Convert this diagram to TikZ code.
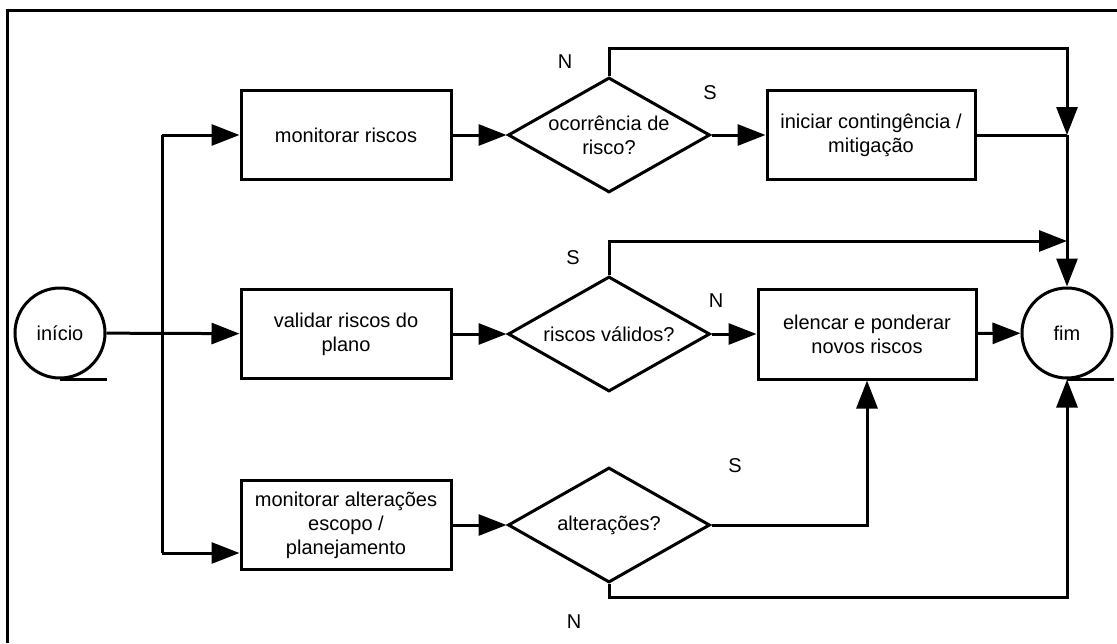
\documentclass[tikz,border=0pt]{standalone}
\usepackage{fontspec}
\setmainfont{Liberation Sans}
\usetikzlibrary{shapes.geometric,arrows.meta}
\begin{document}
\begin{tikzpicture}[x=1pt,y=-1pt,
  line width=3pt,
  arr/.style={-{Triangle[length=28pt,width=21pt]}},
  every node/.style={font=\fontsize{20}{24}\selectfont, align=center},
  procbox/.style={draw, rectangle, inner sep=0pt, minimum width=210pt, minimum height=89pt},
  decision/.style={draw, diamond, aspect=1.757, inner sep=0pt, minimum width=202pt, minimum height=115pt},
  terminal/.style={draw, circle, inner sep=0pt, minimum size=90pt},
  yesno/.style={inner sep=0pt}]
\useasboundingbox (0,0) rectangle (1117,643);

% frame (top and left edges)
\draw (7.5,643) -- (7.5,10.5) -- (1117,10.5);

% terminals
\node[terminal] (ini) at (60,333) {início};
\node[terminal] (fim) at (1067,333) {fim};
\draw (ini.south) -- (ini.south -| ini.east);
\draw (fim.south) -- (fim.south -| fim.east);

% process boxes
\node[procbox] (b1) at (346,135) {monitorar riscos};
\node[procbox] (b2) at (346,334) {validar riscos do\\plano};
\node[procbox] (b3) at (346,525) {monitorar alterações\\escopo /\\planejamento};
\node[procbox, minimum width=208pt] (c1) at (871,135) {iniciar contingência /\\mitigação};
\node[procbox, minimum width=218pt, minimum height=90pt] (el) at (867,334) {elencar e ponderar\\novos riscos};

% decisions
\node[decision] (d1) at (609,135) {ocorrência de\\risco?};
\node[decision] (d2) at (609,334) {riscos válidos?};
\node[decision] (d3) at (609,525) {alterações?};

% fan-out from the start
\coordinate (vt) at (162,135);
\coordinate (vb) at (162,553);
\draw (vt) -- (vb);
\draw[arr] (vt) -- (b1.west);
\draw[arr] (ini) -- (b2);
\draw[arr] (vb) -- (b3.west |- vb);

% boxes into decisions
\draw[arr] (b1) -- (d1);
\draw[arr] (b2) -- (d2);
\draw[arr] (b3) -- (d3);

% risk occurrence
\coordinate (ntop) at (1067,48);
\coordinate (j1) at (1067,135);
\draw[arr] (d1.north) |- (ntop) -- (j1);
\draw[arr] (d1) -- (c1);
\draw (c1.east) -- (j1);
\draw[arr] (j1) -- (fim.north);

% risk validation
\coordinate (j2) at (1067,241);
\draw[arr] (d2.north) |- (j2);
\draw[arr] (d2) -- (el);
\draw[arr] (el) -- (fim);

% changes
\coordinate (nbot) at (1067,597);
\draw[arr] (d3.east) -| (el.south);
\draw[arr] (d3.south) |- (nbot) -- (fim.south);

% branch labels
\node[yesno] (ln1) at (565,62) {N};
\node[yesno] (ls1) at (710,93) {S};
\node[yesno] (ls2) at (573,258) {S};
\node[yesno] (ln2) at (716,301) {N};
\node[yesno] (ls3) at (735,466) {S};
\node[yesno] (ln3) at (574,622) {N};
\end{tikzpicture}
\end{document}
